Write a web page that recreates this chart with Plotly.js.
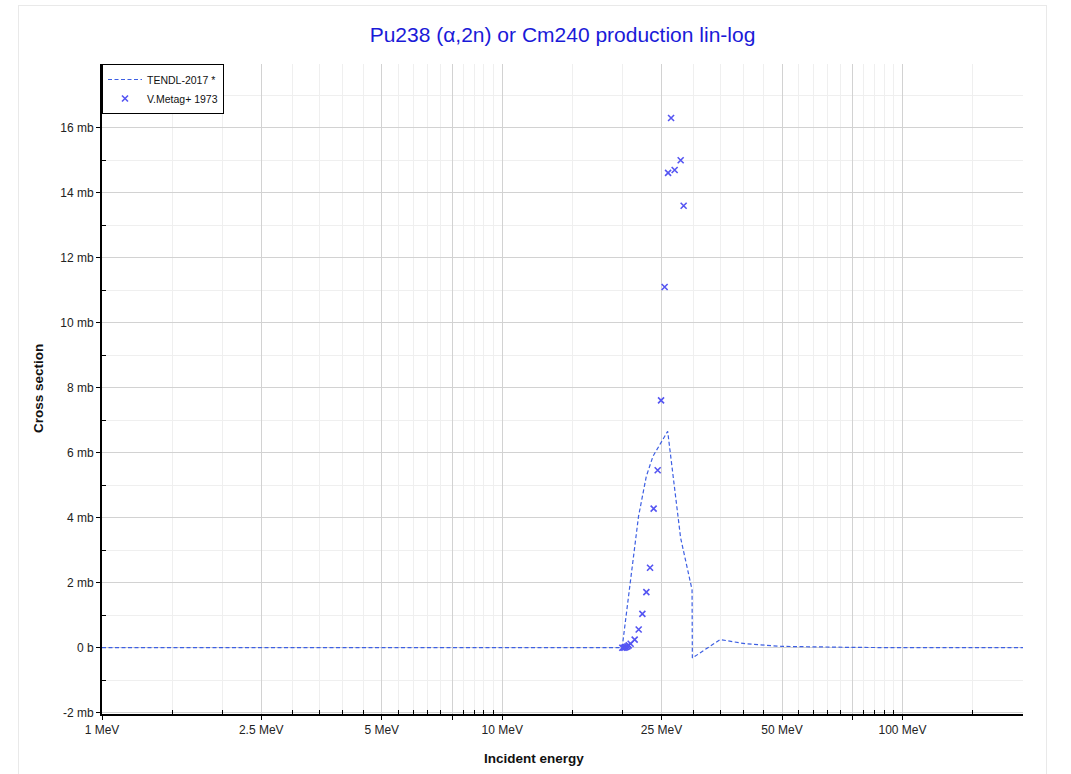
<!DOCTYPE html>
<html>
<head>
<meta charset="utf-8">
<script src="https://cdn.plot.ly/plotly-3.0.1.min.js"></script>
<style>
  html, body { margin: 0; padding: 0; background: #ffffff; }
  #frame { position: absolute; left: 18px; top: 5px; width: 1029px; height: 800px; border: 1px solid #e9e9e9; box-sizing: border-box; }
  #chart { position: absolute; left: 0; top: 0; width: 1071px; height: 774px; }
</style>
</head>
<body>
<div id="frame"></div>
<div id="chart"></div>
<script>
// ---- data (energies in MeV, cross sections in mb) ----
const tendlName = 'TENDL-2017 *';
const tendlE  = [1, 19.93, 21.9, 22.9, 23.8, 25.9, 27.9, 29.8, 29.85, 35, 40.6, 45.6, 50, 75, 100, 200];
const tendlXS = [0, 0, 4.04, 5.27, 5.89, 6.66, 3.38, 1.78, -0.32, 0.25, 0.12, 0.07, 0.04, 0.01, 0, 0];

const metagName = 'V.Metag+ 1973';
const metagE  = [19.95, 20.1, 20.25, 20.4, 20.55, 20.7, 20.93, 21.42, 21.92, 22.39, 22.91, 23.40, 23.89, 24.45, 24.93, 25.45, 25.96, 26.41, 26.96, 27.91, 28.39];
const metagXS = [0.0, 0.0, 0.01, 0.02, 0.04, 0.07, 0.12, 0.25, 0.56, 1.04, 1.71, 2.46, 4.28, 5.46, 7.61, 11.10, 14.61, 16.30, 14.70, 15.0, 13.6];

const xMajorVals = [1, 2.5, 5, 7.5, 10, 25, 50, 75, 100];
const xMajorText = ['1 MeV', '2.5 MeV', '5 MeV', '', '10 MeV', '25 MeV', '50 MeV', '', '100 MeV'];
const xMinorVals = [1.5, 2, 3, 3.5, 4, 4.5, 5.5, 6, 6.5, 7, 8, 8.5, 9, 9.5, 15, 20, 30, 35, 40, 45, 55, 60, 65, 70, 80, 85, 90, 95, 150];
const xRangeMeV = [1, 200];

const yMajorVals = [-2, 0, 2, 4, 6, 8, 10, 12, 14, 16];
const yMajorText = ['-2 mb', '0 b', '2 mb', '4 mb', '6 mb', '8 mb', '10 mb', '12 mb', '14 mb', '16 mb'];
const yMinorVals = [-1, 1, 3, 5, 7, 9, 11, 13, 15, 17];
const yRange = [-2.04, 17.96];

const titleText = 'Pu238 (α,2n) or Cm240 production lin-log';
const xTitle = 'Incident energy';
const yTitle = 'Cross section';

// ---- styling ----
const FONT = 'Liberation Sans, Arial, sans-serif';
const xr = [Math.log10(xRangeMeV[0]), Math.log10(xRangeMeV[1])];

const traces = [
  {
    type: 'scatter', mode: 'lines', name: tendlName,
    x: tendlE, y: tendlXS,
    line: { color: '#3d5fe3', width: 1.2, dash: '4px,2.5px' },
    hoverinfo: 'skip'
  },
  {
    type: 'scatter', mode: 'markers', name: metagName,
    x: metagE, y: metagXS,
    marker: { symbol: 'x-thin-open', size: 6, color: '#5555f2', line: { color: '#5555f2', width: 1.6 } },
    hoverinfo: 'skip'
  }
];

const layout = {
  width: 1071, height: 774,
  margin: { l: 102, r: 48, t: 64, b: 60, pad: 0 },
  paper_bgcolor: 'rgba(0,0,0,0)',
  plot_bgcolor: '#ffffff',
  font: { family: FONT, size: 12, color: '#222' },
  showlegend: true,
  title: {
    text: titleText,
    font: { family: FONT, size: 21, color: '#1a1ad8' },
    x: 0.5, xref: 'paper', xanchor: 'center',
    y: 1 - 35 / 774, yref: 'container', yanchor: 'middle'
  },
  legend: {
    x: 0, y: 1, xref: 'paper', yref: 'paper', xanchor: 'left', yanchor: 'top',
    bgcolor: '#ffffff', bordercolor: '#000000', borderwidth: 1,
    font: { family: FONT, size: 10.5, color: '#111' },
    tracegroupgap: 0, itemwidth: 34
  },
  xaxis: {
    type: 'log', range: xr, autorange: false,
    tickmode: 'array', tickvals: xMajorVals, ticktext: xMajorText,
    ticks: 'outside', ticklen: 4, tickwidth: 1, tickcolor: '#000',
    tickfont: { family: FONT, size: 12, color: '#222' },
    showline: true, linecolor: '#000', linewidth: 2,
    showgrid: true, gridcolor: '#d2d2d2', gridwidth: 1,
    zeroline: false,
    minor: { tickmode: 'array', tickvals: xMinorVals, ticks: 'inside', ticklen: 4, tickcolor: '#000', tickwidth: 1, showgrid: true, gridcolor: '#efefef', gridwidth: 1 },
    mirror: false, fixedrange: true
  },
  xaxis2: {
    type: 'log', range: xr, autorange: false, overlaying: 'x', side: 'top', anchor: 'y',
    tickmode: 'array', tickvals: xMajorVals, showticklabels: false,
    ticks: 'inside', ticklen: 5, tickwidth: 1, tickcolor: '#000',
    showline: true, linecolor: '#000', linewidth: 1.5,
    showgrid: false, zeroline: false,
    minor: { tickmode: 'array', tickvals: xMinorVals, ticks: 'inside', ticklen: 3, tickcolor: '#000', showgrid: false },
    fixedrange: true
  },
  xaxis3: {
    type: 'log', range: xr, autorange: false, overlaying: 'x', side: 'bottom', anchor: 'y',
    tickmode: 'array', tickvals: xMajorVals, showticklabels: false,
    ticks: 'inside', ticklen: 5, tickwidth: 1, tickcolor: '#000',
    showline: false, showgrid: false, zeroline: false, fixedrange: true
  },
  yaxis: {
    range: yRange, autorange: false,
    tickmode: 'array', tickvals: yMajorVals, ticktext: yMajorText,
    ticks: 'outside', ticklen: 4, tickwidth: 1, tickcolor: '#000',
    tickfont: { family: FONT, size: 12, color: '#222' },
    showline: true, linecolor: '#000', linewidth: 2,
    showgrid: true, gridcolor: '#d2d2d2', gridwidth: 1,
    zeroline: false,
    minor: { tickmode: 'array', tickvals: yMinorVals, ticks: 'inside', ticklen: 4, tickcolor: '#000', tickwidth: 1, showgrid: true, gridcolor: '#efefef', gridwidth: 1 },
    fixedrange: true
  },
  yaxis2: {
    range: yRange, autorange: false, overlaying: 'y', side: 'right', anchor: 'x',
    tickmode: 'array', tickvals: yMajorVals, showticklabels: false,
    ticks: 'inside', ticklen: 5, tickwidth: 1, tickcolor: '#000',
    showline: true, linecolor: '#000', linewidth: 1.5,
    showgrid: false, zeroline: false,
    minor: { tickmode: 'array', tickvals: yMinorVals, ticks: 'inside', ticklen: 3, tickcolor: '#000', showgrid: false },
    fixedrange: true
  },
  yaxis3: {
    range: yRange, autorange: false, overlaying: 'y', side: 'left', anchor: 'x',
    tickmode: 'array', tickvals: yMajorVals, showticklabels: false,
    ticks: 'inside', ticklen: 5, tickwidth: 1, tickcolor: '#000',
    showline: false, showgrid: false, zeroline: false, fixedrange: true
  },
  annotations: [
    {
      text: xTitle, xref: 'paper', yref: 'paper',
      x: (534 - 102) / 921, y: (714 - 758) / 650,
      xanchor: 'center', yanchor: 'middle', showarrow: false,
      font: { family: FONT, size: 13.5, color: '#111', weight: 'bold' }
    },
    {
      text: yTitle, xref: 'paper', yref: 'paper',
      x: (38 - 102) / 921, y: 0.5, textangle: -90,
      xanchor: 'center', yanchor: 'middle', showarrow: false,
      font: { family: FONT, size: 13.5, color: '#111', weight: 'bold' }
    }
  ]
};

Plotly.newPlot('chart', traces, layout, { displayModeBar: false, staticPlot: true });
</script>
</body>
</html>
